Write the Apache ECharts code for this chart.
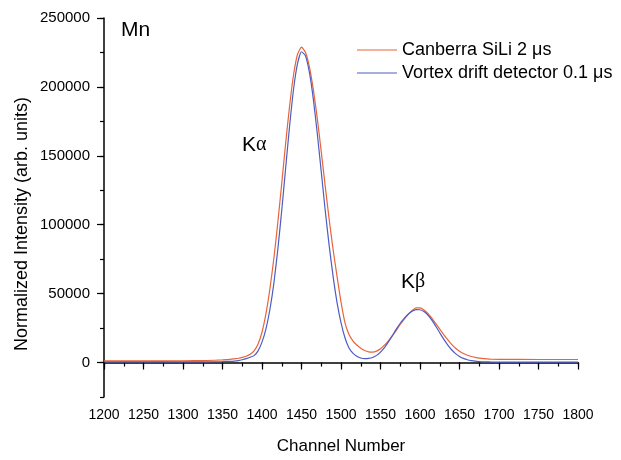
<!DOCTYPE html>
<html>
<head>
<meta charset="utf-8">
<script src="https://cdn.jsdelivr.net/npm/echarts@6/dist/echarts.min.js"></script>
<style>
	html, body { margin: 0; padding: 0; background: #fff; }
	#chart { width: 621px; height: 460px; }
</style>
</head>
<body>
<div id="chart"></div>
<script>
	// channel numbers (x) shared by both spectra
	var channels = [1200, 1250, 1300, 1330, 1350, 1360,
		1365, 1370, 1375, 1380, 1385, 1390, 1395, 1400, 1405, 1410, 1415, 1420, 1425, 1430, 1435, 1440, 1445, 1450,
		1455, 1460, 1465, 1470, 1475, 1480, 1485, 1490, 1495, 1500, 1505, 1510, 1515, 1520, 1525, 1530,
		1535, 1540, 1545, 1550, 1555, 1560, 1565, 1570, 1575, 1580, 1585, 1590, 1595, 1600,
		1605, 1610, 1615, 1620, 1625, 1630, 1635, 1640, 1645, 1650, 1655, 1660,
		1665, 1670, 1675, 1680, 1685, 1690, 1700, 1750, 1800]

	// Canberra SiLi 2 us (orange)
	var canberra = [1300, 1200, 1300, 1500, 1900, 2300,
		2700, 3100, 3700, 4600, 6000, 8500, 13500, 22000, 35500, 53500, 75500, 101500, 130000, 159500, 186500, 209000, 223700, 228800,
		225200, 214600, 198000, 177000, 153000, 128000, 104000, 82000, 62500, 44000, 29000, 20500, 15800, 12700, 10300, 8700,
		7800, 7600, 8300, 10000, 12600, 15800, 19400, 23400, 27600, 31500, 35000, 37800, 39600, 39600,
		38200, 35700, 32200, 28200, 24200, 20300, 16600, 13200, 10400, 8200, 6500, 5300,
		4400, 3700, 3200, 2900, 2600, 2400, 2300, 2200, 2200]

	// Vortex drift detector 0.1 us (blue)
	var vortex = [500, 450, 450, 500, 700, 900,
		1100, 1400, 2000, 2800, 3800, 5000, 8500, 14800, 24500, 38500, 57500, 82000, 110500, 141500, 172000, 198500, 217000, 225500,
		222500, 210500, 191000, 166000, 138500, 110500, 85000, 62500, 43500, 29000, 18000, 10800, 6800, 4600, 3300, 2800,
		3000, 3700, 5200, 7600, 10800, 15000, 19500, 24200, 28500, 32000, 35000, 37200, 38400, 38300,
		37000, 34500, 30800, 26300, 21600, 17000, 12900, 9300, 6500, 4400, 3000, 2000,
		1400, 1000, 750, 550, 450, 400, 350, 300, 300]

	// labelled (major) ticks on y
	var yMajorTicks = [0, 50000, 100000, 150000, 200000, 250000]
	var seriesNames = ['Canberra SiLi 2 μs', 'Vortex drift detector 0.1 μs']
	var colors = ['#e8643a', '#4c5cc4']

	function pairs(xs, ys) {
		return xs.map(function (x, i) { return [x, ys[i]] })
	}

	var font = 'Liberation Sans, Arial, sans-serif'
	var chart = echarts.init(document.getElementById('chart'))

	chart.setOption({
		backgroundColor: '#fff',
		animation: false,
		textStyle: { fontFamily: font },
		grid: { left: 104, right: 43, top: 18, bottom: 55 },
		legend: {
			orient: 'vertical',
			left: 357,
			top: 41,
			padding: 0,
			icon: 'rect',
			itemWidth: 40,
			itemHeight: 1.2,
			itemGap: 5,
			textStyle: { fontSize: 18, color: '#000', fontFamily: font, lineHeight: 18 },
			data: seriesNames
		},
		xAxis: [{
			type: 'value',
			min: 1200,
			max: 1800,
			interval: 25,
			name: 'Channel Number',
			nameLocation: 'middle',
			nameGap: 41,
			nameTextStyle: { fontSize: 17, color: '#000' },
			axisLine: { lineStyle: { color: '#000', width: 1.5 } },
			axisTick: { length: 4, lineStyle: { color: '#000', width: 1.2 } },
			axisLabel: {
				fontSize: 14, color: '#000', margin: 11,
				formatter: function (v) { return v % 50 === 0 ? v : '' }
			},
			splitLine: { show: false }
		}, {
			// longer ticks every 50 channels
			type: 'value',
			position: 'bottom',
			min: 1200,
			max: 1800,
			interval: 50,
			axisLine: { show: false },
			axisTick: { length: 7, lineStyle: { color: '#000', width: 1.2 } },
			axisLabel: { show: false },
			splitLine: { show: false }
		}],
		yAxis: [{
			type: 'value',
			min: -25000,
			max: 250000,
			interval: 25000,
			axisLine: { show: true, lineStyle: { color: '#000', width: 1.5 } },
			axisTick: { show: true, length: 4, lineStyle: { color: '#000', width: 1.2 } },
			axisLabel: {
				fontSize: 15, color: '#000', margin: 14,
				formatter: function (v) { return v >= 0 && v % 50000 === 0 ? v : '' }
			},
			splitLine: { show: false }
		}, {
			type: 'value',
			position: 'left',
			min: -25000,
			max: 250000,
			axisLine: { show: false },
			axisTick: { show: true, length: 7, customValues: yMajorTicks, lineStyle: { color: '#000', width: 1.2 } },
			axisLabel: { show: false },
			splitLine: { show: false }
		}],
		graphic: [
			{ type: 'text', x: 22, y: 224, rotation: Math.PI / 2,
				style: { text: 'Normalized Intensity (arb. units)', font: '18px ' + font, fill: '#000', align: 'center', verticalAlign: 'middle' } },
			{ type: 'text', x: 121, y: 30,
				style: { text: 'Mn', font: '21px ' + font, fill: '#000', verticalAlign: 'middle' } },
			{ type: 'text', x: 242, y: 145,
				style: { text: '{k|K}{g|α}', verticalAlign: 'middle', fill: '#000',
					rich: { k: { fontSize: 21, fontFamily: font }, g: { fontSize: 20, fontFamily: 'Liberation Serif, serif' } } } },
			{ type: 'text', x: 401, y: 282,
				style: { text: '{k|K}{g|β}', verticalAlign: 'middle', fill: '#000',
					rich: { k: { fontSize: 21, fontFamily: font }, g: { fontSize: 20, fontFamily: 'Liberation Serif, serif' } } } }
		],
		series: [{
			name: seriesNames[0],
			type: 'line',
			symbol: 'none',
			smooth: 0.2,
			lineStyle: { color: colors[0], width: 1.2 },
			itemStyle: { color: colors[0] },
			data: pairs(channels, canberra)
		}, {
			name: seriesNames[1],
			type: 'line',
			symbol: 'none',
			smooth: 0.2,
			lineStyle: { color: colors[1], width: 1.2 },
			itemStyle: { color: colors[1] },
			data: pairs(channels, vortex)
		}]
	})
</script>
</body>
</html>
